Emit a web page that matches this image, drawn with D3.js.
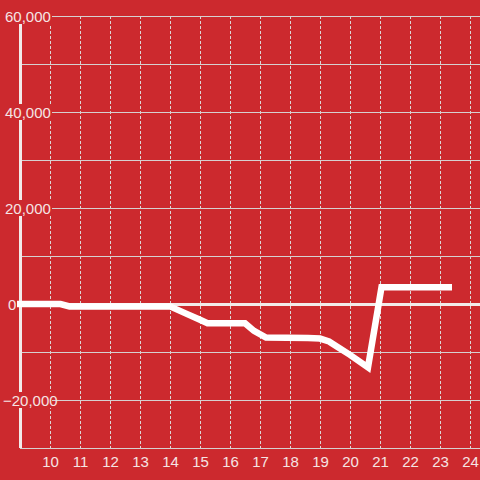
<!DOCTYPE html>
<html>
<head>
<meta charset="utf-8">
<script src="https://cdn.jsdelivr.net/npm/d3@7"></script>
<style>
  body { margin: 0; background: #cc292e; }
  svg { display: block; font-family: "Liberation Sans", Arial, sans-serif; }
</style>
</head>
<body>
<div id="chart"></div>
<script>
// hours vs running total
var hours = [8.9, 10.35, 10.65, 14.0, 14.5, 15.0, 15.25, 16.5, 16.8, 17.2, 18.6, 19.0, 19.3, 19.6, 20.0, 20.6, 21.05, 23.4];
var totals = [0, 0, -500, -500, -1900, -3300, -4000, -4000, -5600, -7000, -7100, -7200, -7800, -9000, -10600, -13200, 3500, 3500];

var xTicks = [10, 11, 12, 13, 14, 15, 16, 17, 18, 19, 20, 21, 22, 23, 24];
var yGrid = [60000, 50000, 40000, 30000, 20000, 10000, 0, -10000, -20000, -30000];
var yLabels = [60000, 40000, 20000, 0, -20000];

var W = 480, H = 480;
var bg = "#cc292e";

var svg = d3.select("#chart")
    .append("svg")
    .attr("width", W)
    .attr("height", H);

svg.append("rect").attr("width", W).attr("height", H).attr("fill", bg);

var x = d3.scaleLinear().domain([9, 9 + 460 / 30]).range([20, 480]);
var y = d3.scaleLinear().domain([-30000, 60000]).range([448, 16]);

// vertical dotted grid
svg.selectAll(".vgrid")
    .data(xTicks)
    .enter()
    .append("line")
    .attr("x1", function(d) { return x(d) + 0.5; })
    .attr("x2", function(d) { return x(d) + 0.5; })
    .attr("y1", 16)
    .attr("y2", 448)
    .attr("stroke", "#dcd6d6")
    .attr("stroke-width", 1)
    .attr("stroke-dasharray", "3,2");

// horizontal grid
svg.selectAll(".hgrid")
    .data(yGrid)
    .enter()
    .append("line")
    .attr("x1", 20)
    .attr("x2", W)
    .attr("y1", function(d) { return y(d) + 0.5; })
    .attr("y2", function(d) { return y(d) + 0.5; })
    .attr("stroke", function(d) { return d === 0 ? "#f2eaea" : "#d6d0d0"; })
    .attr("stroke-width", function(d) { return d === 0 ? 3 : 1; });

// y axis line
svg.append("line")
    .attr("x1", 20.5).attr("x2", 20.5)
    .attr("y1", 16).attr("y2", 448)
    .attr("stroke", "#f2eaea")
    .attr("stroke-width", 3);

// x tick labels
svg.selectAll(".xlab")
    .data(xTicks)
    .enter()
    .append("text")
    .attr("x", function(d) { return x(d) + 0.5; })
    .attr("y", 467)
    .attr("text-anchor", "middle")
    .attr("font-size", 15)
    .attr("fill", "#f5e4e4")
    .text(function(d) { return d; });

// the line
var line = d3.line()
    .x(function(d, i) { return x(hours[i]); })
    .y(function(d) { return y(d); });

svg.append("path")
    .datum(totals)
    .attr("d", line)
    .attr("fill", "none")
    .attr("stroke", "#ffffff")
    .attr("stroke-width", 6.5)
    .attr("stroke-linejoin", "miter");

// y labels with background
var fmt = d3.format(",");
var yl = svg.selectAll(".ylab")
    .data(yLabels)
    .enter()
    .append("g");

yl.append("rect")
    .attr("x", function(d) { return d === 0 ? 4 : 2; })
    .attr("y", function(d) { return y(d) - 8; })
    .attr("width", function(d) { return d === 0 ? 13 : 50; })
    .attr("height", 16)
    .attr("fill", bg);

yl.append("text")
    .attr("x", function(d) { return d < 0 ? 3 : (d === 0 ? 8 : 5); })
    .attr("y", function(d) { return y(d) + 5.5; })
    .attr("font-size", 15)
    .attr("fill", "#f5e4e4")
    .text(function(d) { return fmt(d); });
</script>
</body>
</html>
